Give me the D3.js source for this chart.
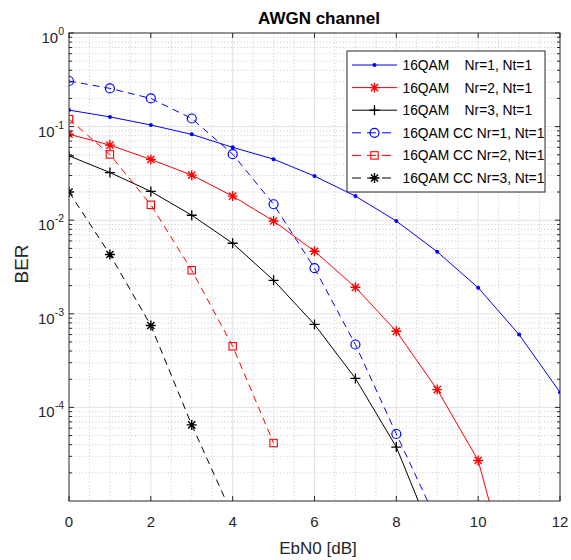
<!DOCTYPE html>
<html><head><meta charset="utf-8">
<script src="https://cdn.jsdelivr.net/npm/d3@7"></script>
<style>
body{margin:0;background:#fff;}
text{font-family:"Liberation Sans",Arial,Helvetica,sans-serif;}
</style></head>
<body><svg id="c" width="571" height="560"></svg>
<script>
const ebn0 = [0,1,2,3,4,5,6,7,8,9,10,11,12];
const ber16qamNr1 = [0.150,0.127,0.104,0.0826,0.060,0.0449,0.0296,0.0181,0.0098,0.0046,0.0019,6.0e-4,1.45e-4];
const ber16qamNr2 = [0.083,0.0634,0.0446,0.0303,0.0181,0.0098,0.00466,0.00192,6.5e-4,1.55e-4,2.71e-5,6.5e-7];
const ber16qamNr3 = [0.0487,0.0323,0.0203,0.0113,0.00567,0.00228,7.7e-4,2.04e-4,3.77e-5,3.2e-6];
const berCCNr1 = [0.307,0.256,0.200,0.122,0.0508,0.0148,0.00307,4.7e-4,5.2e-5,6e-6];
const berCCNr2 = [0.120,0.0504,0.0146,0.00292,4.5e-4,4.16e-5];
const berCCNr3 = [0.020,0.0043,7.5e-4,6.5e-5,7e-6];
const seriesNames = ["16QAM    Nr=1, Nt=1","16QAM    Nr=2, Nt=1","16QAM    Nr=3, Nt=1",
  "16QAM CC Nr=1, Nt=1","16QAM CC Nr=2, Nt=1","16QAM CC Nr=3, Nt=1"];
const xTicks = [0,2,4,6,8,10,12];
const yTickExps = [0,-1,-2,-3,-4];
const titleText = "AWGN channel", xLabel = "EbN0 [dB]", yLabel = "BER";

const series = [
  {name:seriesNames[0], v:ber16qamNr1, color:"#0000ff", dash:null, marker:"dot"},
  {name:seriesNames[1], v:ber16qamNr2, color:"#ff0000", dash:null, marker:"star"},
  {name:seriesNames[2], v:ber16qamNr3, color:"#000000", dash:null, marker:"plus"},
  {name:seriesNames[3], v:berCCNr1, color:"#0000ff", dash:"7,5", marker:"circle"},
  {name:seriesNames[4], v:berCCNr2, color:"#ff0000", dash:"7,5", marker:"square"},
  {name:seriesNames[5], v:berCCNr3, color:"#000000", dash:"7,5", marker:"star"},
];

const L=69, R=560, T=33, B=501;
const svg = d3.select("#c");
const x = d3.scaleLinear().domain([0,12]).range([L,R]);
const y = d3.scaleLog().domain([1e-5,1]).range([B,T]);

// grid
const g = svg.append("g");
const minorX = d3.range(0,12.01,0.5).filter(v=>v%2!==0);
g.selectAll(".mx").data(minorX).enter().append("line")
  .attr("x1",d=>x(d)).attr("x2",d=>x(d)).attr("y1",T).attr("y2",B)
  .attr("stroke","#c8c8c8").attr("stroke-dasharray","1,2.3");
const minorY=[]; for(let e=-5;e<0;e++) for(let k=2;k<10;k++) minorY.push(k*Math.pow(10,e));
g.selectAll(".my").data(minorY).enter().append("line")
  .attr("y1",d=>y(d)).attr("y2",d=>y(d)).attr("x1",L).attr("x2",R)
  .attr("stroke","#c8c8c8").attr("stroke-dasharray","1,2.3");
g.selectAll(".gx").data(xTicks.slice(1,-1)).enter().append("line")
  .attr("x1",d=>x(d)).attr("x2",d=>x(d)).attr("y1",T).attr("y2",B)
  .attr("stroke","#e2e2e2");
g.selectAll(".gy").data(yTickExps.slice(1)).enter().append("line")
  .attr("y1",d=>y(Math.pow(10,d))).attr("y2",d=>y(Math.pow(10,d))).attr("x1",L).attr("x2",R)
  .attr("stroke","#e2e2e2");

// clip
svg.append("clipPath").attr("id","clip").append("rect").attr("x",L).attr("y",T).attr("width",R-L).attr("height",B-T);
const plot = svg.append("g").attr("clip-path","url(#clip)");
const line = d3.line().x((d,i)=>x(ebn0[i])).y(d=>y(d));

function drawMarker(sel, type, color){
  if(type==="dot"){ sel.append("circle").attr("r",2).attr("fill",color); }
  else if(type==="circle"){ sel.append("circle").attr("r",4.5).attr("fill","none").attr("stroke",color).attr("stroke-width",1.2); }
  else if(type==="square"){ sel.append("rect").attr("x",-3.7).attr("y",-3.7).attr("width",7.4).attr("height",7.4).attr("fill","none").attr("stroke",color).attr("stroke-width",1.1); }
  else if(type==="plus"){ sel.append("path").attr("d","M-5,0H5M0,-5V5").attr("stroke",color).attr("stroke-width",1.3); }
  else if(type==="star"){ sel.append("path").attr("d","M-5,0H5M0,-5V5M-3.6,-3.6L3.6,3.6M-3.6,3.6L3.6,-3.6").attr("stroke",color).attr("stroke-width",1.4); }
}

series.forEach(s=>{
  plot.append("path").attr("d",line(s.v)).attr("fill","none").attr("stroke",s.color)
    .attr("stroke-width",1).attr("stroke-dasharray",s.dash);
  s.v.forEach((v,i)=>{
    if(v<1e-5) return;
    const m = plot.append("g").attr("transform",`translate(${x(ebn0[i])},${y(v)})`);
    drawMarker(m,s.marker,s.color);
  });
});

// axes box and ticks
const ax = svg.append("g").attr("stroke","#262626").attr("stroke-width",1);
ax.append("rect").attr("x",L).attr("y",T).attr("width",R-L).attr("height",B-T).attr("fill","none");
xTicks.forEach(t=>{
  ax.append("line").attr("x1",x(t)).attr("x2",x(t)).attr("y1",B).attr("y2",B-5);
  ax.append("line").attr("x1",x(t)).attr("x2",x(t)).attr("y1",T).attr("y2",T+5);
});
yTickExps.forEach(e=>{
  const yy=y(Math.pow(10,e));
  ax.append("line").attr("x1",L).attr("x2",L+5).attr("y1",yy).attr("y2",yy);
  ax.append("line").attr("x1",R).attr("x2",R-5).attr("y1",yy).attr("y2",yy);
});
minorY.forEach(v=>{
  const yy=y(v);
  ax.append("line").attr("x1",L).attr("x2",L+3).attr("y1",yy).attr("y2",yy);
  ax.append("line").attr("x1",R).attr("x2",R-3).attr("y1",yy).attr("y2",yy);
});

// tick labels
svg.selectAll(".xt").data(xTicks).enter().append("text")
  .attr("x",d=>x(d)).attr("y",527).attr("text-anchor","middle")
  .attr("font-size",15).attr("fill","#262626").text(d=>d);
yTickExps.forEach(e=>{
  const t = svg.append("text").attr("x",64).attr("y",y(Math.pow(10,e))+10)
    .attr("text-anchor","end").attr("font-size",15).attr("fill","#262626");
  t.append("tspan").text("10");
  t.append("tspan").attr("dy",-8).attr("font-size",10.5).text(e);
});

// labels
svg.append("text").attr("x",318).attr("y",554).attr("text-anchor","middle")
  .attr("font-size",17).attr("fill","#262626").text(xLabel);
svg.append("text").attr("transform","translate(28,264) rotate(-90)").attr("text-anchor","middle")
  .attr("font-size",19).attr("fill","#262626").text(yLabel);
svg.append("text").attr("x",319).attr("y",24).attr("text-anchor","middle")
  .attr("font-size",17).attr("font-weight","bold").attr("fill","#000").text(titleText);

// legend
const lg = svg.append("g");
lg.append("rect").attr("x",347).attr("y",51).attr("width",198).attr("height",141)
  .attr("fill","#fff").attr("stroke","#262626").attr("stroke-width",1);
series.forEach((s,i)=>{
  const yy = 65 + i*22.6;
  lg.append("line").attr("x1",352).attr("x2",397).attr("y1",yy).attr("y2",yy)
    .attr("stroke",s.color).attr("stroke-width",1).attr("stroke-dasharray",s.dash?"9,6":null);
  const m = lg.append("g").attr("transform",`translate(374.5,${yy})`);
  drawMarker(m,s.marker,s.color);
  lg.append("text").attr("x",402.5).attr("y",yy+5).attr("font-size",13.8)
    .attr("fill","#000").style("white-space","pre").text(s.name);
});
</script></body></html>
